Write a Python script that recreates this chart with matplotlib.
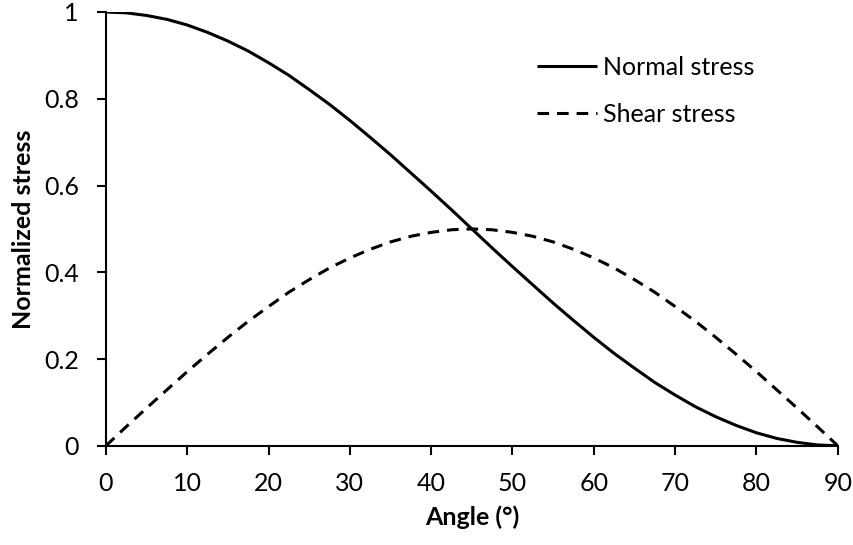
import matplotlib
matplotlib.use("Agg")
import matplotlib.pyplot as plt
from matplotlib.ticker import FuncFormatter

plt.rcParams['font.family'] = ['Lato', 'DejaVu Sans']

# Angle in degrees and the normalized stresses read at each angle
angle = [0, 2.5, 5, 7.5, 10, 12.5, 15, 17.5, 20, 22.5, 25, 27.5, 30, 32.5, 35, 37.5,
         40, 42.5, 45, 47.5, 50, 52.5, 55, 57.5, 60, 62.5, 65, 67.5, 70, 72.5, 75,
         77.5, 80, 82.5, 85, 87.5, 90]
normal_stress = [1.000, 0.998, 0.992, 0.983, 0.970, 0.953, 0.933, 0.910, 0.883, 0.854,
                 0.821, 0.787, 0.750, 0.711, 0.671, 0.629, 0.587, 0.544, 0.500, 0.456,
                 0.413, 0.371, 0.329, 0.289, 0.250, 0.213, 0.179, 0.146, 0.117, 0.090,
                 0.067, 0.047, 0.030, 0.017, 0.008, 0.002, 0.000]
shear_stress = [0.000, 0.044, 0.087, 0.129, 0.171, 0.211, 0.250, 0.287, 0.321, 0.354,
                0.383, 0.410, 0.433, 0.453, 0.470, 0.483, 0.492, 0.498, 0.500, 0.498,
                0.492, 0.483, 0.470, 0.453, 0.433, 0.410, 0.383, 0.354, 0.321, 0.287,
                0.250, 0.211, 0.171, 0.129, 0.087, 0.044, 0.000]

x_ticks = [0, 10, 20, 30, 40, 50, 60, 70, 80, 90]
y_ticks = [0, 0.2, 0.4, 0.6, 0.8, 1.0]

FS = 18

fig = plt.figure(figsize=(8.54, 5.45), dpi=100)
ax = fig.add_axes([0.124, 0.182, 0.857, 0.796])

ax.plot(angle, normal_stress, color='black', lw=2.2, label='Normal stress',
        solid_capstyle='butt')
ax.plot(angle, shear_stress, color='black', lw=2.2, dashes=(3.8, 2.6),
        label='Shear stress', dash_capstyle='butt')

ax.set_xlim(0, 90)
ax.set_ylim(0, 1)
ax.set_xticks(x_ticks)
ax.set_yticks(y_ticks)
ax.yaxis.set_major_formatter(FuncFormatter(lambda v, p: '%g' % v))

for side in ('top', 'right'):
    ax.spines[side].set_visible(False)
for side in ('left', 'bottom'):
    ax.spines[side].set_linewidth(1.5)

ax.tick_params(axis='both', direction='out', length=6.5, width=1.5,
               labelsize=FS, colors='black')
ax.tick_params(axis='x', pad=12)
ax.tick_params(axis='y', pad=13)

ax.set_xlabel('Angle (°)', fontsize=FS, fontweight='bold', labelpad=8)
ax.set_ylabel('Normalized stress', fontsize=FS, fontweight='bold', labelpad=6)

leg = ax.legend(loc='upper left', bbox_to_anchor=(0.589, 0.898), frameon=False,
                fontsize=FS, handlelength=2.4, handletextpad=0.25, labelspacing=0.95,
                borderpad=0, borderaxespad=0)

fig.savefig('out.png', dpi=100)
